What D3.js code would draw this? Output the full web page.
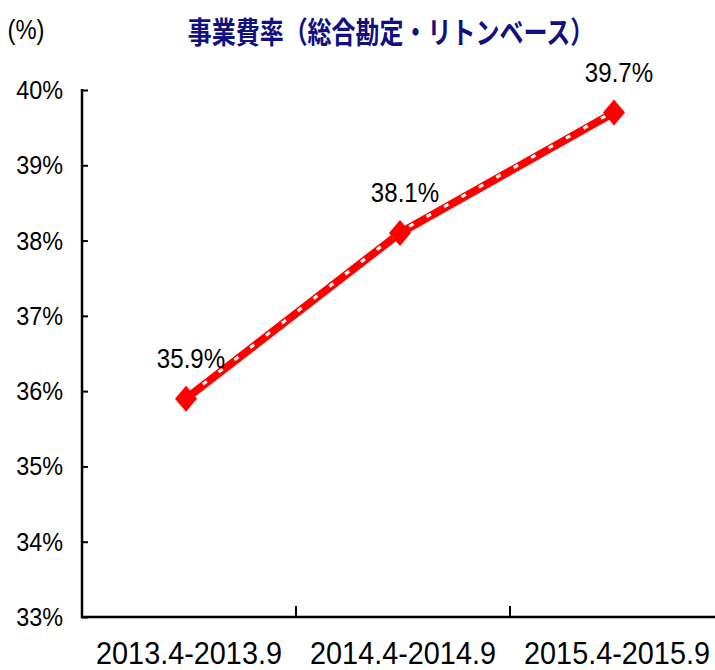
<!DOCTYPE html>
<html>
<head>
<meta charset="utf-8">
<script src="https://cdn.jsdelivr.net/npm/d3@7"></script>
<style>
  body { margin: 0; background: #fff; }
  svg { display: block; }
  text { font-family: "Liberation Sans", Arial, sans-serif; fill: #000; }
</style>
</head>
<body>
<svg id="chart" width="715" height="670"></svg>
<script>
// data
const periods = ["2013.4-2013.9", "2014.4-2014.9", "2015.4-2015.9"];
const ratios = [35.9, 38.1, 39.7];
const yTicks = [33, 34, 35, 36, 37, 38, 39, 40];
const title = "事業費率（総合勘定・リトンベース）";
const unitLabel = "(%)";

const svg = d3.select("#chart");
const W = 715, H = 670;
const margin = { left: 82, top: 90, bottom: 617, right: 724 };

const x = d3.scaleBand()
  .domain(periods)
  .range([margin.left, margin.right]);

const y = d3.scaleLinear()
  .domain([33, 40])
  .range([margin.bottom, margin.top]);

// the reference text is a bit squeezed sideways
function squeezed(g, tx, ty, str, size, sx, anchor) {
  return g.append("text")
    .attr("transform", `translate(${tx},${ty}) scale(${sx},1)`)
    .attr("text-anchor", anchor)
    .style("font-size", size + "px")
    .text(str);
}

// title + unit
squeezed(svg, 391, 43, title, 30, 0.8, "middle")
  .style("font-family", "'Noto Sans CJK JP', sans-serif")
  .style("font-weight", "bold")
  .style("fill", "#101080");
squeezed(svg, 26, 39, unitLabel, 27, 0.88, "middle");

// y axis
let yAxis = svg.append("g")
  .attr("transform", `translate(${margin.left},0)`)
  .call(d3.axisRight(y).tickValues(yTicks).tickSize(6).tickFormat(""));
yAxis.select(".domain").remove();
yAxis.selectAll(".tick line").attr("stroke", "#000").attr("stroke-width", 2);

yTicks.forEach(v => {
  squeezed(svg, 63, y(v) + 9, v + "%", 26, 0.9, "end");
});

// x axis ticks (band boundaries, pointing up)
const xBounds = periods.slice(1).map(p => x(p));
svg.selectAll("line.xtick")
  .data(xBounds)
  .enter()
  .append("line")
  .attr("class", "xtick")
  .attr("x1", d => d).attr("x2", d => d)
  .attr("y1", margin.bottom).attr("y2", margin.bottom - 11)
  .attr("stroke", "#000").attr("stroke-width", 2);

// axis lines
svg.append("path")
  .attr("d", `M${margin.left},${margin.top - 1}V${margin.bottom}H${W}`)
  .attr("fill", "none")
  .attr("stroke", "#000")
  .attr("stroke-width", 2.5);

periods.forEach(p => {
  squeezed(svg, x(p) + x.bandwidth() / 2, 664, p, 31, 0.93, "middle");
});

// series
const pts = periods.map((p, i) => [x(p) + x.bandwidth() / 2 - 3, y(ratios[i])]);
const line = d3.line();

svg.append("path")
  .attr("d", line(pts))
  .attr("fill", "none")
  .attr("stroke", "#ff0000")
  .attr("stroke-width", 8)
  .attr("stroke-linejoin", "round");

// white notches along the line (as in the reference rendering)
svg.append("path")
  .attr("d", line(pts))
  .attr("transform", "translate(1,-2)")
  .attr("fill", "none")
  .attr("stroke", "#fff")
  .attr("stroke-width", 3)
  .attr("stroke-dasharray", "5,15");

const diamond = "M0,-13L11,0L0,13L-11,0Z";
svg.selectAll("path.marker")
  .data(pts)
  .enter()
  .append("path")
  .attr("class", "marker")
  .attr("d", diamond)
  .attr("transform", d => `translate(${d[0]},${d[1]})`)
  .attr("fill", "#ff0000");

pts.forEach((d, i) => {
  squeezed(svg, d[0] + 5, d[1] - 31, ratios[i].toFixed(1) + "%", 28, 0.86, "middle");
});
</script>
</body>
</html>
